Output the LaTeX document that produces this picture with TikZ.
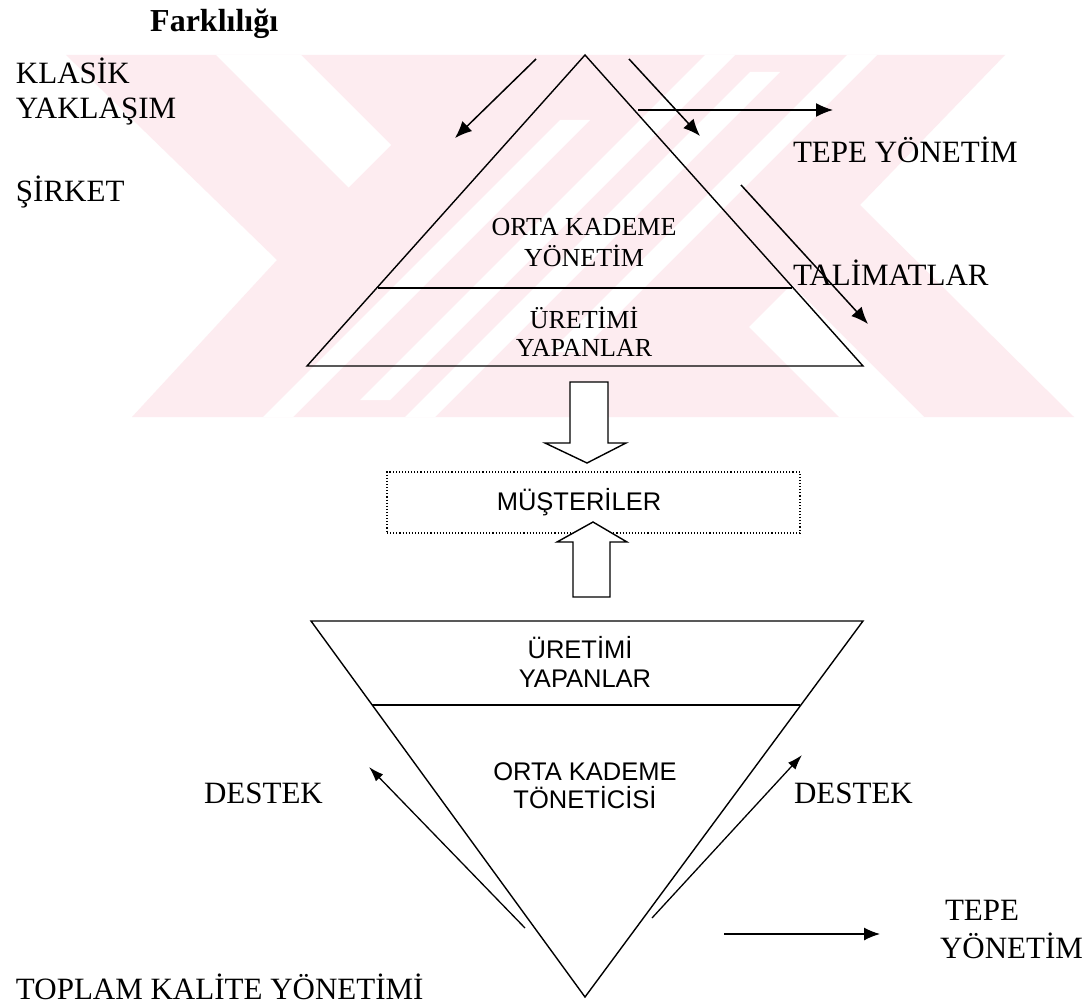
\documentclass[tikz,border=0pt]{standalone}
\usepackage{fontspec}
\setmainfont{Liberation Serif}
\setsansfont{Liberation Sans}
\usetikzlibrary{arrows.meta}
\definecolor{wmpink}{RGB}{253,236,240}
\tikzset{
  lbl/.style={inner sep=0pt, outer sep=0pt, font=\fontsize{31}{36}\selectfont},
  lvl/.style={inner sep=0pt, outer sep=0pt, font=\fontsize{26}{30}\selectfont},
  lvls/.style={inner sep=0pt, outer sep=0pt, font=\sffamily\fontsize{25.5}{30}\selectfont},
  edge/.style={line width=1.4pt, line join=miter},
  thinarrow/.style={line width=1.5pt, -{Latex[length=17pt,width=14pt]}},
  smallarrow/.style={line width=1.3pt, -{Latex[length=15pt,width=10pt]}},
  blockarrow/.style={line width=1.4pt, fill=white, line join=miter},
}
\begin{document}
\begin{tikzpicture}[x=1pt,y=-1pt]
\useasboundingbox (0,0) rectangle (1089,1006);
\fill[white] (0,0) rectangle (1089,1006);

% background emblem
\begin{scope}
  \clip (66,55) -- (1005,55) -- (860,205) -- (1074,417) -- (132,417) -- (277,260) -- cycle;
  \fill[wmpink] (0,0) rectangle (1089,430);
  \fill[white] (216,55) -- (301,55) -- (391,145) -- (348.5,187.5) -- cycle;
  \fill[white] (924,417) -- (839,417) -- (749,327) -- (791.5,284.5) -- cycle;
  \fill[white] (705,55) -- (735,55) -- (390,400) -- (360,400) -- cycle;
  \fill[white] (750,72) -- (780,72) -- (435,417) -- (405,417) -- cycle;
  \fill[white] (847,55) -- (877,55) -- (580,352) -- (550,352) -- cycle;
  \fill[white] (560,120) -- (590,120) -- (293,417) -- (263,417) -- cycle;
\end{scope}

% headings and side labels
\node[inner sep=0pt, anchor=base west, font=\bfseries\fontsize{32}{36}\selectfont] (title) at (150,32) {Farklılığı};
\node[lbl, anchor=base west] (klasik) at (16,84) {KLASİK};
\node[lbl, anchor=base west] (yaklasim) at (16,119) {YAKLAŞIM};
\node[lbl, anchor=base west] (sirket) at (16,201) {ŞİRKET};
\node[lbl, anchor=base west] (tepe1) at (793,162) {TEPE YÖNETİM};
\node[lbl, anchor=base west] (talimat) at (793,285) {TALİMATLAR};

% upper pyramid
\coordinate (ta) at (585,55);
\coordinate (tl) at (307,366);
\coordinate (tr) at (863,366);
\coordinate (tdl) at (378,288);
\coordinate (tdr) at (792,288);
\draw[edge] (ta) -- (tr) -- (tl) -- cycle;
\draw[edge] (tdl) -- (tdr);
\node[lvl, anchor=base] (orta1) at (584,235) {ORTA KADEME};
\node[lvl, anchor=base] (yon1) at (584,266) {YÖNETİM};
\node[lvl, anchor=base] (uret1) at (584,328) {ÜRETİMİ};
\node[lvl, anchor=base] (yap1) at (584,356) {YAPANLAR};

% arrows around the upper pyramid
\coordinate (a1s) at (536,59);  \coordinate (a1e) at (455,138);
\coordinate (a2s) at (629,59);  \coordinate (a2e) at (700,136);
\coordinate (a3s) at (638,110); \coordinate (a3e) at (833,110);
\coordinate (a4s) at (741,185); \coordinate (a4e) at (868,324);
\draw[thinarrow] (a1s) -- (a1e);
\draw[thinarrow] (a2s) -- (a2e);
\draw[thinarrow] (a3s) -- (a3e);
\draw[thinarrow] (a4s) -- (a4e);

% customers box
\node[draw, dotted, line width=1.1pt, minimum width=413pt, minimum height=61pt, inner sep=0pt] (must) at (593.5,502.5) {};
\node[lvls, anchor=base] (mustxt) at (579,510) {MÜŞTERİLER};

% block arrows
\draw[blockarrow] (570,382) -- (608,382) -- (608,443) -- (626,443) -- (587,463) -- (545,443) -- (570,443) -- cycle;
\draw[blockarrow] (573,597) -- (610,597) -- (610,542) -- (627,542) -- (593,522) -- (557,542) -- (573,542) -- cycle;

% lower (inverted) pyramid
\coordinate (bl) at (311,621);
\coordinate (br) at (863,621);
\coordinate (bb) at (585,997);
\coordinate (bdl) at (372,705);
\coordinate (bdr) at (800,705);
\draw[edge] (bl) -- (br) -- (bb) -- cycle;
\draw[edge] (bdl) -- (bdr);
\node[lvls, anchor=base] (uret2) at (580,658) {ÜRETİMİ};
\node[lvls, anchor=base] (yap2) at (585,687) {YAPANLAR};
\node[lvls, anchor=base] (orta2) at (585,780) {ORTA KADEME};
\node[lvls, anchor=base] (ton2) at (585,808) {TÖNETİCİSİ};

% support arrows and labels
\node[lbl, anchor=base west] (destl) at (204,803) {DESTEK};
\node[lbl, anchor=base west] (destr) at (794,803) {DESTEK};
\coordinate (d1s) at (525,928); \coordinate (d1e) at (369,767);
\coordinate (d2s) at (652,918); \coordinate (d2e) at (802,755);
\draw[smallarrow] (d1s) -- (d1e);
\draw[smallarrow] (d2s) -- (d2e);

\coordinate (t2s) at (724,934); \coordinate (t2e) at (880,934);
\draw[line width=1.3pt, -{Latex[length=16pt,width=13pt]}] (t2s) -- (t2e);
\node[lbl, anchor=base west] (tepe2a) at (945,920) {TEPE};
\node[lbl, anchor=base west] (tepe2b) at (940,958) {YÖNETİM};
\node[lbl, anchor=base west] (tkm) at (16,999) {TOPLAM KALİTE YÖNETİMİ};
\end{tikzpicture}
\end{document}
